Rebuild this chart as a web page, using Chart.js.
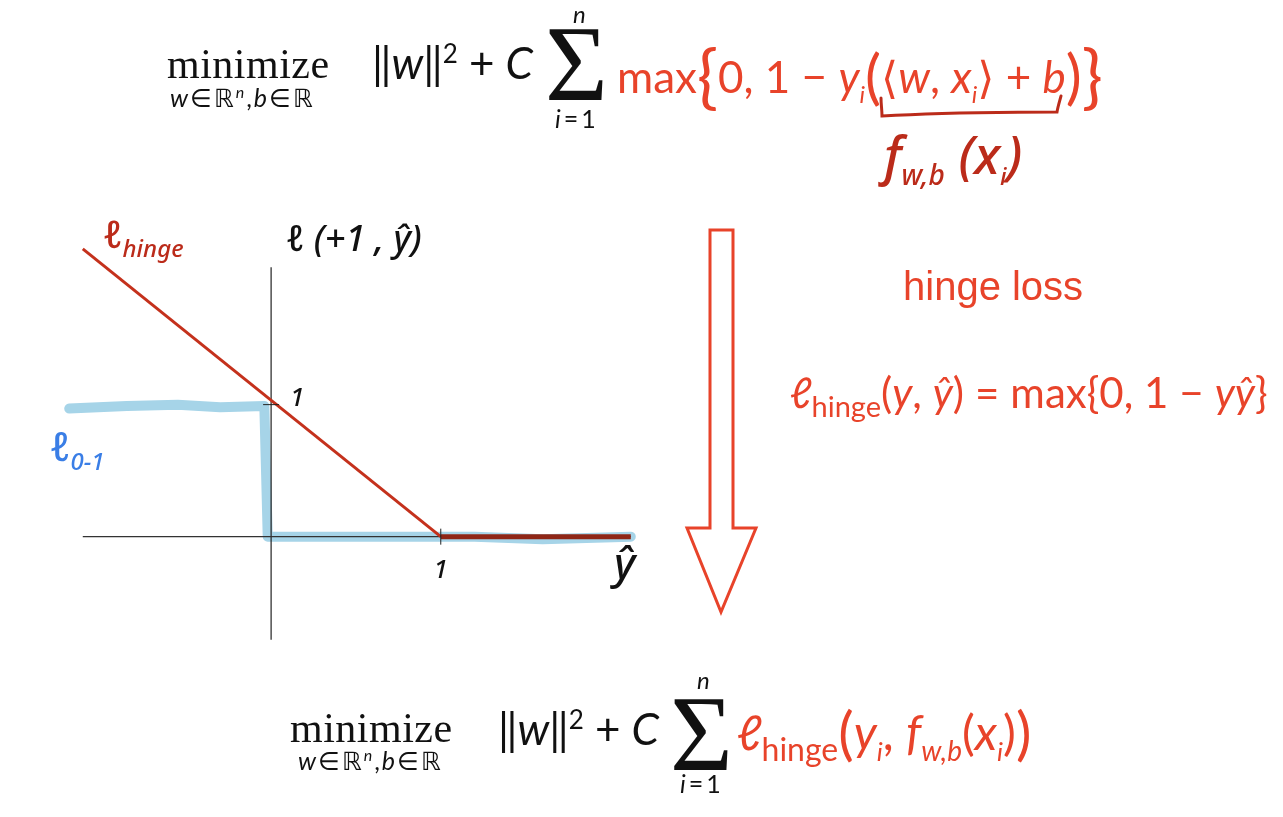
<!DOCTYPE html>
<html>
<head>
<meta charset="utf-8">
<script src="https://cdn.jsdelivr.net/npm/chart.js@4.4.0/dist/chart.umd.min.js"></script>
<style>
  html, body { margin: 0; padding: 0; background: #fff; }
  #page { position: relative; width: 1283px; height: 817px; overflow: hidden; background: #fff; }
  #plot { position: absolute; left: 20px; top: 200px; }
  .t { position: absolute; white-space: nowrap; line-height: 1; }
  .serif { font-family: "Liberation Serif", "DejaVu Serif", serif; color: #111; }
  .sans { font-family: Lato, "DejaVu Sans", sans-serif; color: #111; }
  .red { color: #e8432a; }
  .it { font-style: italic; }
  .sp { margin: 0 11px; }
  .eq { margin: 0 3px; }
  .hand { font-family: "Noto Sans", "DejaVu Sans", sans-serif; font-style: italic; font-weight: 500; }
  sub, sup { line-height: 0; }
  svg { position: absolute; left: 0; top: 0; }
</style>
</head>
<body>
<div id="page">
  <canvas id="plot" width="660" height="470"></canvas>

  <svg width="1283" height="817">
    <!-- big down arrow -->
    <polygon points="710,230 733,230 733,528 756,528 721,612 687,528 710,528"
             fill="#fff" stroke="#e8432a" stroke-width="3" stroke-linejoin="miter"/>
    <!-- hand-drawn brace under <w, x_i> + b -->
    <path d="M881,98 C881,104 882,110 882,116 C930,113 1000,112 1057,112 C1058,106 1060,100 1061,96"
          fill="none" stroke="#bb2b1a" stroke-width="3" stroke-linecap="round"/>
  </svg>

  <!-- top objective -->
  <div class="t serif" style="left:167px; top:43px; font-size:42px; letter-spacing:0.5px;">minimize</div>
  <div class="t sans" style="left:170px; top:85px; font-size:25px; letter-spacing:2px;"><span class="it">w</span>∈ℝ<sup class="it" style="font-size:16px">n</sup>,<span class="it">b</span>∈ℝ</div>
  <div class="t sans" style="left:372px; top:40px; font-size:44px;">‖<span class="it">w</span>‖<sup style="font-size:26px">2</sup><span class="sp">+</span><span class="it">C</span></div>
  <div class="t serif" style="left:545px; top:10px; font-size:108px;">Σ</div>
  <div class="t sans it" style="left:573px; top:2px; font-size:24px;">n</div>
  <div class="t sans" style="left:555px; top:106px; font-size:25px;"><span class="it">i</span><span class="eq">=</span>1</div>
  <div class="t sans red" style="left:617px; top:39px; font-size:44px;">max<span style="font-size:70px; vertical-align:-8px">{</span>0, 1 − <span class="it">y</span><sub class="it" style="font-size:24px">i</sub><span style="font-size:60px; vertical-align:-5px">(</span>⟨<span class="it">w</span>, <span class="it">x</span><sub class="it" style="font-size:24px">i</sub>⟩ + <span class="it">b</span><span style="font-size:60px; vertical-align:-5px">)</span><span style="font-size:70px; vertical-align:-8px">}</span></div>

  <!-- handwritten f_{w,b}(x_i) -->
  <div class="t hand" style="left:884px; top:128px; font-size:52px; color:#bb2b1a;">f<sub style="font-size:28px">w,b</sub> (x<sub style="font-size:24px">i</sub>)</div>

  <!-- right side notes -->
  <div class="t" style="left:903px; top:266px; font-size:40px; font-family:'Liberation Sans', Arial, sans-serif; color:#e8432a;">hinge loss</div>
  <div class="t sans red" style="left:790px; top:371px; font-size:42px;"><span class="it">ℓ</span><sub style="font-size:29px">hinge</sub>(<span class="it">y</span>, <span class="it">y&#770;</span>)<span class="sp">=</span>max{0, 1<span class="sp">−</span><span class="it">y</span><span class="it">y&#770;</span>}</div>

  <!-- bottom objective -->
  <div class="t serif" style="left:290px; top:707px; font-size:42px; letter-spacing:0.5px;">minimize</div>
  <div class="t sans" style="left:298px; top:748px; font-size:25px; letter-spacing:2px;"><span class="it">w</span>∈ℝ<sup class="it" style="font-size:16px">n</sup>,<span class="it">b</span>∈ℝ</div>
  <div class="t sans" style="left:498px; top:706px; font-size:44px;">‖<span class="it">w</span>‖<sup style="font-size:26px">2</sup><span class="sp">+</span><span class="it">C</span></div>
  <div class="t serif" style="left:670px; top:680px; font-size:108px;">Σ</div>
  <div class="t sans it" style="left:697px; top:668px; font-size:24px;">n</div>
  <div class="t sans" style="left:680px; top:771px; font-size:25px;"><span class="it">i</span><span class="eq">=</span>1</div>
  <div class="t sans red" style="left:737px; top:703px; font-size:48px;"><span class="it">ℓ</span><sub style="font-size:32px">hinge</sub><span style="font-size:58px; vertical-align:-4px">(</span><span class="it">y</span><sub class="it" style="font-size:26px">i</sub>, <span class="it">f</span><sub class="it" style="font-size:28px">w,b</sub>(<span class="it">x</span><sub class="it" style="font-size:26px">i</sub>)<span style="font-size:58px; vertical-align:-4px">)</span></div>

  <!-- handwritten chart labels -->
  <div class="t hand" style="left:103px; top:214px; font-size:38px; color:#bb2b1a;">ℓ<sub style="font-size:24px">hinge</sub></div>
  <div class="t hand" style="left:286px; top:220px; font-size:36px; color:#111;">ℓ (+1 , y&#770;)</div>
  <div class="t hand" style="left:50px; top:426px; font-size:40px; color:#3a7ee6;">ℓ<sub style="font-size:24px">0-1</sub></div>
  <div class="t hand" style="left:614px; top:540px; font-size:44px; color:#111;">y&#770;</div>
</div>

<script>
'use strict'

// x axis (y-hat) extent and y axis extent, in data units
var xAxisLine = [[-1.11, 0], [2.12, 0]]
var yAxisLine = [[0, 2.04], [0, -0.78]]

// tick marks and their labels
var xTicks = [1]
var yTicks = [1]
var tickLabels = ['1']

// hinge loss: max(0, 1 - y_hat), drawn as slope + flat part
var hingeSlope = [[-1.11, 2.18], [1, 0]]
var hingeFlat = [[1, 0], [2.12, 0]]

// 0-1 loss, hand-drawn (slightly wavy)
var zeroOneX = [-1.19, -0.85, -0.55, -0.3, -0.04, -0.03, -0.02, 0.5, 1.2, 1.6, 2.12]
var zeroOneY = [0.97, 0.99, 1.0, 0.98, 0.99, 0.5, 0.0, 0.0, 0.0, -0.02, 0.0]

function pts(arr) {
    return arr.map(function (p) { return { x: p[0], y: p[1] } })
}

var zeroOne = zeroOneX.map(function (x, i) { return { x: x, y: zeroOneY[i] } })

// small tick marks drawn through the scales
var tickPlugin = {
    id: 'handTicks',
    afterDatasetsDraw: function (chart) {
        var ctx = chart.ctx
        var xs = chart.scales.x
        var ys = chart.scales.y
        ctx.save()
        ctx.strokeStyle = '#222'
        ctx.lineWidth = 1
        ctx.fillStyle = '#111'
        ctx.font = 'italic 500 26px "Noto Sans", sans-serif'
        ctx.textAlign = 'center'
        ctx.textBaseline = 'middle'
        xTicks.forEach(function (v, i) {
            var px = xs.getPixelForValue(v)
            var py = ys.getPixelForValue(0)
            ctx.beginPath()
            ctx.moveTo(px, py - 8)
            ctx.lineTo(px, py + 8)
            ctx.stroke()
            ctx.fillText(tickLabels[i], px, py + 34)
        })
        yTicks.forEach(function (v, i) {
            var px = xs.getPixelForValue(0)
            var py = ys.getPixelForValue(v)
            ctx.beginPath()
            ctx.moveTo(px - 8, py)
            ctx.lineTo(px + 8, py)
            ctx.stroke()
            ctx.fillText(tickLabels[i], px + 26, py - 6)
        })
        ctx.restore()
    }
}

var ctx = document.getElementById('plot').getContext('2d')

new Chart(ctx, {
    type: 'scatter',
    data: {
        datasets: [{
            label: 'hinge (flat)',
            data: pts(hingeFlat),
            showLine: true,
            borderColor: '#8f2616',
            borderWidth: 5,
            pointRadius: 0,
            order: 0
        }, {
            label: 'hinge',
            data: pts(hingeSlope),
            showLine: true,
            borderColor: '#c4311c',
            borderWidth: 3,
            pointRadius: 0,
            order: 1
        }, {
            label: 'x axis',
            data: pts(xAxisLine),
            showLine: true,
            borderColor: '#333',
            borderWidth: 1.2,
            pointRadius: 0,
            order: 2
        }, {
            label: 'y axis',
            data: pts(yAxisLine),
            showLine: true,
            borderColor: '#222',
            borderWidth: 1.2,
            pointRadius: 0,
            order: 2
        }, {
            label: '0-1 loss',
            data: zeroOne,
            showLine: true,
            borderColor: '#a6d4e8',
            borderWidth: 10,
            borderCapStyle: 'round',
            borderJoinStyle: 'round',
            pointRadius: 0,
            order: 3
        }]
    },
    options: {
        responsive: false,
        animation: false,
        layout: { padding: 0 },
        plugins: {
            legend: { display: false },
            tooltip: { enabled: false }
        },
        scales: {
            x: { type: 'linear', min: -1.48, max: 2.41, display: false },
            y: { type: 'linear', min: -1.01, max: 2.55, display: false }
        }
    },
    plugins: [tickPlugin]
})
</script>
</body>
</html>
